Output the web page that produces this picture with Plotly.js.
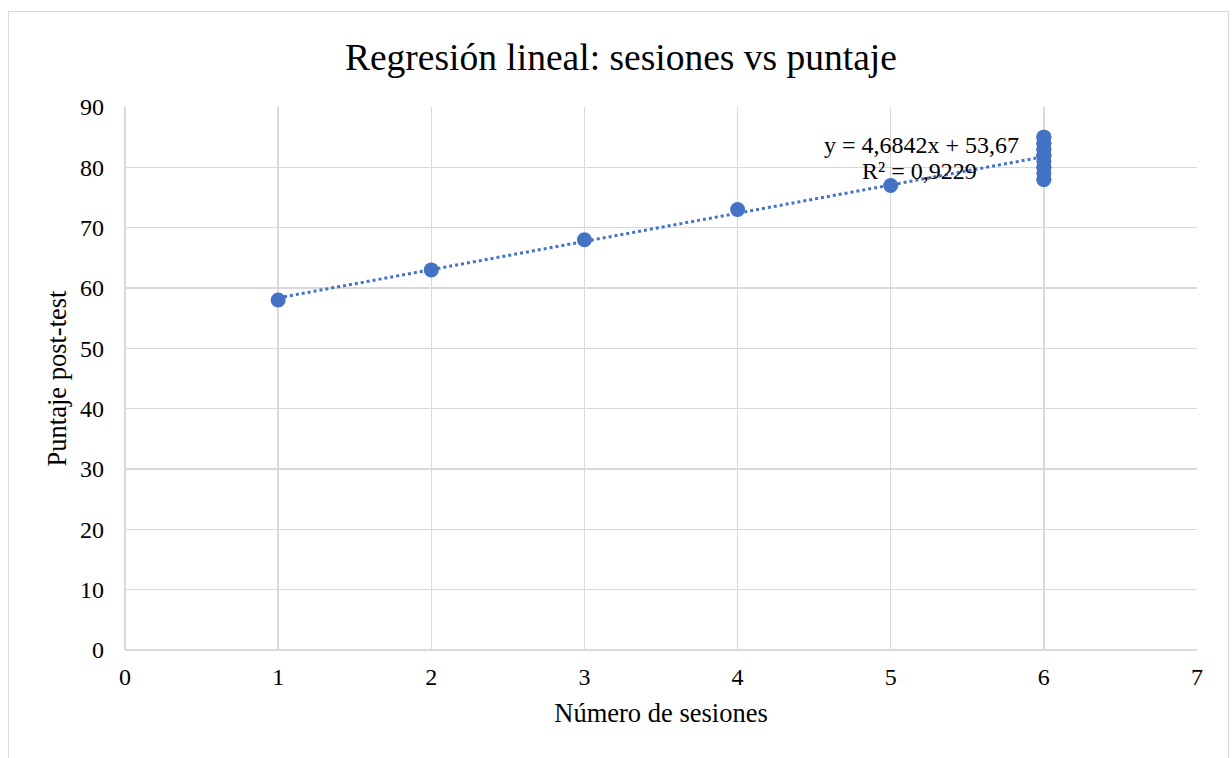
<!DOCTYPE html>
<html>
<head>
<meta charset="utf-8">
<script src="https://cdn.plot.ly/plotly-3.0.1.min.js"></script>
<style>
  html, body { margin: 0; padding: 0; background: #ffffff; }
  #frame { position: absolute; left: 8px; top: 11px; width: 1221px; height: 760px; border: 1px solid #d9d9d9; box-sizing: border-box; }
  #chart { position: absolute; left: 0; top: 0; width: 1232px; height: 758px; }
</style>
</head>
<body>
<div id="frame"></div>
<div id="chart"></div>
<script>
// Data
const sesiones = [1, 2, 3, 4, 5, 6, 6, 6, 6, 6, 6, 6, 6, 6, 6, 6, 6, 6, 6, 6];
const puntaje  = [58, 63, 68, 73, 77, 78, 78, 79, 80, 80, 81, 82, 82, 82, 83, 83, 84, 84, 85, 85];
const ecuacionTexto = "y = 4,6842x + 53,67";
const r2Texto = "R² = 0,9229";
const xTicks = [0, 1, 2, 3, 4, 5, 6, 7];
const yTicks = [0, 10, 20, 30, 40, 50, 60, 70, 80, 90];

// Least-squares linear trendline computed from the data
const n = sesiones.length;
const mx = sesiones.reduce((a, b) => a + b, 0) / n;
const my = puntaje.reduce((a, b) => a + b, 0) / n;
let sxy = 0, sxx = 0;
for (let i = 0; i < n; i++) { sxy += (sesiones[i] - mx) * (puntaje[i] - my); sxx += (sesiones[i] - mx) ** 2; }
const pendiente = sxy / sxx;
const intercepto = my - pendiente * mx;
const xMin = Math.min(...sesiones), xMax = Math.max(...sesiones);
const trendX = [xMin, xMax];
const trendY = trendX.map(x => pendiente * x + intercepto);

const color = '#4472C4';
const font = 'Liberation Serif, Times New Roman, serif';

const data = [
  {
    x: trendX, y: trendY, type: 'scatter', mode: 'lines',
    line: { color: color, width: 3, dash: 'dot' },
    hoverinfo: 'skip', showlegend: false
  },
  {
    x: sesiones, y: puntaje, type: 'scatter', mode: 'markers',
    marker: { color: color, size: 15, line: { width: 0 } },
    showlegend: false
  }
];

const layout = {
  width: 1232, height: 758,
  paper_bgcolor: 'rgba(0,0,0,0)', plot_bgcolor: 'rgba(0,0,0,0)',
  margin: { l: 125, r: 35, t: 107, b: 108 },
  font: { family: font, color: '#000000', size: 24 },
  title: {
    text: 'Regresión lineal: sesiones vs puntaje',
    font: { family: font, size: 37.5, color: '#000000' },
    xref: 'container', x: 0.504, xanchor: 'center',
    yref: 'container', y: 1 - 57 / 758, yanchor: 'middle'
  },
  xaxis: {
    range: [0, 7], tickvals: xTicks, ticktext: xTicks.map(String),
    showgrid: true, gridcolor: '#d9d9d9', gridwidth: 1.5,
    zeroline: true, zerolinecolor: '#d9d9d9', zerolinewidth: 1.5,
    showline: false, ticks: '', ticklabelstandoff: 10,
    tickfont: { family: font, size: 24, color: '#000000' },
    title: { text: 'Número de sesiones', font: { family: font, size: 26.5, color: '#000000' }, standoff: 14 },
    fixedrange: true
  },
  yaxis: {
    range: [0, 90], tickvals: yTicks, ticktext: yTicks.map(String),
    showgrid: true, gridcolor: '#d9d9d9', gridwidth: 1.5,
    zeroline: true, zerolinecolor: '#d9d9d9', zerolinewidth: 1.5,
    showline: false, ticks: '', ticklabelstandoff: 20,
    tickfont: { family: font, size: 24, color: '#000000' },
    title: { text: 'Puntaje post-test', font: { family: font, size: 26.5, color: '#000000' }, standoff: 5 },
    fixedrange: true
  },
  annotations: [
    {
      x: 5.198, y: 83.7, xref: 'x', yref: 'y', text: ecuacionTexto, showarrow: false,
      font: { family: font, size: 24, color: '#000000' }, xanchor: 'center', yanchor: 'middle'
    },
    {
      x: 5.19, y: 79.4, xref: 'x', yref: 'y', text: r2Texto, showarrow: false,
      font: { family: font, size: 24, color: '#000000' }, xanchor: 'center', yanchor: 'middle'
    }
  ]
};

Plotly.newPlot('chart', data, layout, { displayModeBar: false, staticPlot: true });
</script>
</body>
</html>
